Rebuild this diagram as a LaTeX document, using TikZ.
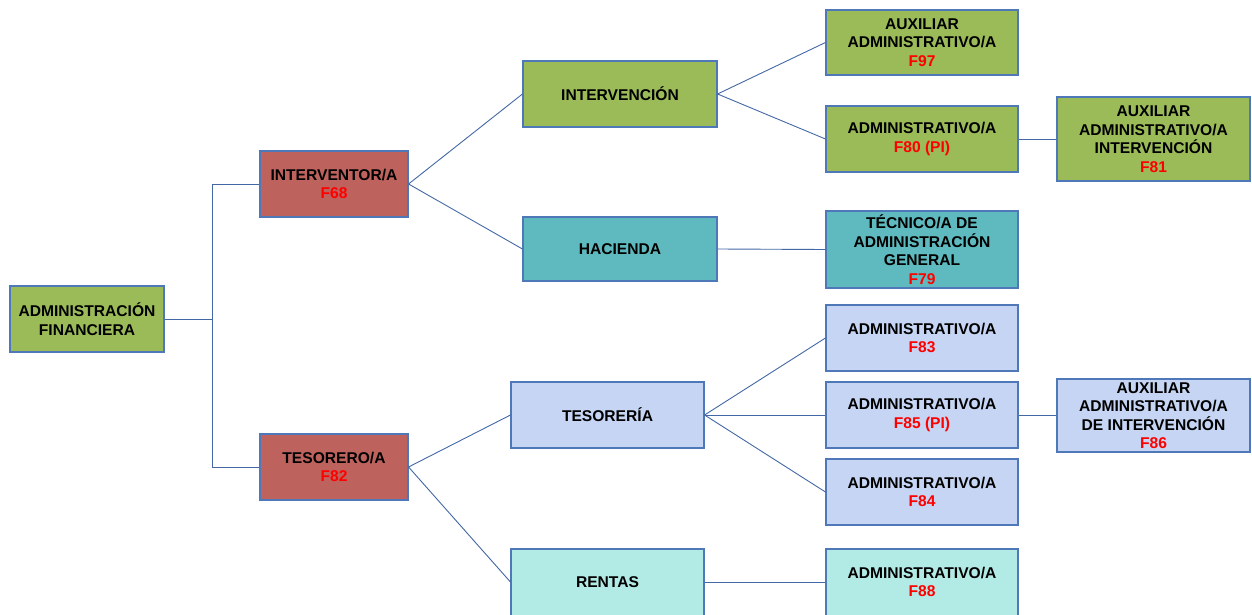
\documentclass[tikz,border=0pt]{standalone}
\usepackage{fontspec}
\setmainfont{Liberation Sans}
\definecolor{cgreen}{RGB}{155,187,89}
\definecolor{cred}{RGB}{190,98,94}
\definecolor{cteal}{RGB}{94,186,190}
\definecolor{cblue}{RGB}{197,213,243}
\definecolor{caqua}{RGB}{178,235,230}
\definecolor{cborder}{RGB}{79,120,185}
\definecolor{cline}{RGB}{68,104,165}
\definecolor{fred}{RGB}{255,0,0}
\newcommand{\fc}[1]{\textcolor{fred}{#1}}
\begin{document}
\begin{tikzpicture}[x=1pt,y=-1pt,
  box/.style={draw=cborder, line width=1.1pt, inner sep=0pt, align=center,
    font=\bfseries\fontsize{15.6}{18.5}\selectfont, minimum width=192pt, minimum height=66pt},
  conn/.style={draw=cline, line width=0.9pt}]
\useasboundingbox (0,0) rectangle (1252,615);
\clip (0,0) rectangle (1252,615);
\fill[white] (0,0) rectangle (1252,615);

\node[box, fill=cgreen, minimum width=154pt] (af) at (87,319) {ADMINISTRACIÓN\\FINANCIERA};
\node[box, fill=cred, minimum width=148pt] (iv) at (334,184) {INTERVENTOR/A\\\fc{F68}};
\node[box, fill=cred, minimum width=148pt] (ts) at (334,467) {TESORERO/A\\\fc{F82}};

\node[box, fill=cgreen, minimum width=194pt] (icn) at (620,94) {INTERVENCIÓN};
\node[box, fill=cteal, minimum width=194pt, minimum height=64pt] (hac) at (620,249) {HACIENDA};
\node[box, fill=cblue, minimum width=193pt] (tsr) at (607.5,415) {TESORERÍA};
\node[box, fill=caqua, minimum width=193pt, minimum height=74pt] (ren) at (607.5,586) {};
\node[font=\bfseries\fontsize{15.6}{18.5}\selectfont] (renl) at (607.5,582) {RENTAS};

\node[box, fill=cgreen, minimum height=65pt] (f97) at (922,42.5) {AUXILIAR\\ADMINISTRATIVO/A\\\fc{F97}};
\node[box, fill=cgreen] (f80) at (922,139) {ADMINISTRATIVO/A\\\fc{F80 (PI)}};
\node[box, fill=cgreen, minimum width=193pt, minimum height=84pt] (f81) at (1153.5,139) {AUXILIAR\\ADMINISTRATIVO/A\\INTERVENCIÓN\\\fc{F81}};
\node[box, fill=cteal, minimum height=77pt] (f79) at (922,249.5) {TÉCNICO/A DE\\ADMINISTRACIÓN\\GENERAL\\\fc{F79}};

\node[box, fill=cblue] (f83) at (922,338) {ADMINISTRATIVO/A\\\fc{F83}};
\node[box, fill=cblue] (f85) at (922,415) {ADMINISTRATIVO/A\\\fc{F85 (PI)}};
\node[box, fill=cblue, minimum width=193pt, minimum height=73pt] (f86) at (1153.5,415.5) {AUXILIAR\\ADMINISTRATIVO/A\\DE INTERVENCIÓN\\\fc{F86}};
\node[box, fill=cblue] (f84) at (922,492) {ADMINISTRATIVO/A\\\fc{F84}};
\node[box, fill=caqua, minimum height=74pt] (f88) at (922,586) {};
\node[align=center, font=\bfseries\fontsize{15.6}{18.5}\selectfont] (f88l) at (922,582) {ADMINISTRATIVO/A\\\fc{F88}};

\draw[conn] (af.east) -- ++(48,0) coordinate (jn) |- (iv.west);
\draw[conn] (jn) |- (ts.west);
\draw[conn] (iv.east) -- (icn.west);
\draw[conn] (iv.east) -- (hac.west);
\draw[conn] (icn.east) -- (f97.west);
\draw[conn] (icn.east) -- (f80.west);
\draw[conn] (f80.east) -- (f81.west);
\draw[conn] (hac.east) -- (f79.west);
\draw[conn] (ts.east) -- (tsr.west);
\draw[conn] (ts.east) -- (ren.west |- renl.west);
\draw[conn] (tsr.east) -- (f83.west);
\draw[conn] (tsr.east) -- (f85.west);
\draw[conn] (tsr.east) -- (f84.west);
\draw[conn] (f85.east) -- (f86.west |- f85.east);
\draw[conn] (ren.east |- renl.east) -- (f88.west |- f88l.west);
\end{tikzpicture}
\end{document}
